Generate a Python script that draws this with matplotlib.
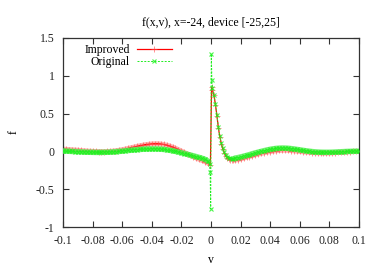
import numpy as np
import matplotlib
matplotlib.use("Agg")
import matplotlib.pyplot as plt

# ---- data ----
# regular sampling away from v = 0
v_left = np.arange(-0.100, -0.0019, 0.002)
v_right = np.arange(0.016, 0.1001, 0.002)

improved_left = [
    0.030, 0.028, 0.025, 0.022, 0.019, 0.016, 0.012, 0.009, 0.006, 0.003,
    0.001, -0.001, -0.002, -0.002, -0.002, -0.001, 0.001, 0.005, 0.010, 0.016,
    0.023, 0.031, 0.040, 0.049, 0.058, 0.067, 0.075, 0.083, 0.090, 0.095,
    0.099, 0.101, 0.101, 0.098, 0.092, 0.083, 0.072, 0.058, 0.042, 0.024,
    0.005, -0.014, -0.033, -0.052, -0.070, -0.088, -0.105, -0.120, -0.137, -0.155,
]
original_left = [
    0.005, 0.004, 0.002, 0.000, -0.002, -0.004, -0.006, -0.008, -0.010, -0.011,
    -0.012, -0.013, -0.013, -0.013, -0.012, -0.011, -0.009, -0.006, -0.003, 0.000,
    0.004, 0.008, 0.012, 0.016, 0.020, 0.023, 0.026, 0.029, 0.031, 0.032,
    0.033, 0.033, 0.032, 0.030, 0.026, 0.021, 0.015, 0.008, 0.000, -0.009,
    -0.018, -0.028, -0.038, -0.048, -0.058, -0.069, -0.080, -0.092, -0.106, -0.130,
]

# finer sampling around the jump
improved_v_mid = [-0.0004, 0.0004, 0.001, 0.002, 0.003, 0.004, 0.005, 0.006,
                  0.007, 0.008, 0.009, 0.010, 0.011, 0.012, 0.013, 0.014, 0.015]
improved_mid = [-0.180, 0.850, 0.810, 0.740, 0.620, 0.470, 0.310, 0.190,
                0.100, 0.030, -0.020, -0.060, -0.085, -0.100, -0.112, -0.118, -0.120]
original_v_mid = [-0.001, -0.0006, -0.0002, 0.0002, 0.0006, 0.001, 0.002, 0.003,
                  0.004, 0.005, 0.006, 0.007, 0.008, 0.009, 0.010, 0.011, 0.012,
                  0.013, 0.014, 0.015]
original_mid = [-0.170, -0.270, -0.760, 1.290, 0.950, 0.840, 0.750, 0.630,
                0.480, 0.320, 0.200, 0.110, 0.040, -0.010, -0.050, -0.070, -0.085,
                -0.092, -0.095, -0.095]

improved_right = [
    -0.118, -0.110, -0.100, -0.090, -0.079, -0.068, -0.057, -0.046, -0.036, -0.027,
    -0.018, -0.010, -0.003, 0.003, 0.008, 0.012, 0.014, 0.015, 0.014, 0.011,
    0.007, 0.003, -0.001, -0.005, -0.009, -0.012, -0.015, -0.018, -0.020, -0.021,
    -0.022, -0.022, -0.021, -0.019, -0.017, -0.014, -0.011, -0.008, -0.005, -0.003,
    -0.001, 0.000, 0.000,
]
original_right = [
    -0.090, -0.083, -0.074, -0.064, -0.054, -0.043, -0.031, -0.020, -0.010, 0.000,
    0.010, 0.019, 0.027, 0.034, 0.039, 0.042, 0.044, 0.043, 0.041, 0.037,
    0.032, 0.026, 0.020, 0.014, 0.008, 0.003, -0.002, -0.006, -0.009, -0.011,
    -0.012, -0.012, -0.012, -0.011, -0.009, -0.007, -0.005, -0.003, -0.001, 0.000,
    0.001, 0.002, 0.002,
]

v_improved = np.concatenate([v_left, improved_v_mid, v_right])
f_improved = np.concatenate([improved_left, improved_mid, improved_right])
v_original = np.concatenate([v_left, original_v_mid, v_right])
f_original = np.concatenate([original_left, original_mid, original_right])

x_ticks = [-0.1, -0.08, -0.06, -0.04, -0.02, 0, 0.02, 0.04, 0.06, 0.08, 0.1]
x_tick_labels = ["-0.1", "-0.08", "-0.06", "-0.04", "-0.02", "0",
                 "0.02", "0.04", "0.06", "0.08", "0.1"]
y_ticks = [-1, -0.5, 0, 0.5, 1, 1.5]
y_tick_labels = ["-1", "-0.5", "0", "0.5", "1", "1.5"]

# ---- plot ----
plt.rcParams["font.family"] = ["Liberation Serif", "DejaVu Serif"]
fs = 8.5

fig = plt.figure(figsize=(3.82, 2.67), dpi=100)
ax = fig.add_axes([63 / 382, 1 - 227 / 267, 296 / 382, 189 / 267])

# the original has so many points on the smooth parts that the markers
# merge into a band; a wide pale stroke there gives the same look
for vv, ff in [(v_left, improved_left), (v_right, improved_right)]:
    ax.plot(vv, ff, color="#ff9a9a", lw=3.5, alpha=0.8,
            solid_capstyle="round", zorder=1)
ax.plot(v_improved, f_improved, color="#ff0000", lw=0.9, marker="+",
        ms=4, mew=0.7, mec=(1.0, 0.3, 0.3, 0.6), label="Improved", zorder=2)
for vv, ff in [(v_left, original_left), (v_right, original_right)]:
    ax.plot(vv, ff, color="#55f055", lw=4, alpha=0.85,
            solid_capstyle="round", zorder=3)
ax.plot(v_original, f_original, color="#22ee22", lw=0.7, ls=(0, (2, 1.5)),
        marker="x", ms=3.5, mew=0.8, mec=(0.1, 0.95, 0.1, 0.8),
        label="Original", zorder=4)

ax.set_xlim(-0.1, 0.1)
ax.set_ylim(-1, 1.5)
ax.set_xticks(x_ticks)
ax.set_xticklabels(x_tick_labels)
ax.set_yticks(y_ticks)
ax.set_yticklabels(y_tick_labels)
ax.tick_params(direction="in", length=4, width=0.8, color="#333333",
               top=True, right=True, labelsize=fs, colors="#222222")
ax.tick_params(axis="x", pad=6)
ax.tick_params(axis="y", pad=6)
for s in ax.spines.values():
    s.set_color("#333333")
    s.set_linewidth(0.9)

ax.set_xlabel("v", fontsize=fs, labelpad=5)
ax.set_ylabel("f", fontsize=fs, labelpad=12)
ax.set_title("f(x,v), x=-24, device [-25,25]", fontsize=fs, pad=9)

ax.legend(loc="upper left", bbox_to_anchor=(0.04, 1.02), frameon=False,
          fontsize=fs, markerfirst=False, numpoints=1, handlelength=3.0,
          handletextpad=0.6, labelspacing=0.05, borderpad=0.3)

fig.savefig("out.png", dpi=100)
